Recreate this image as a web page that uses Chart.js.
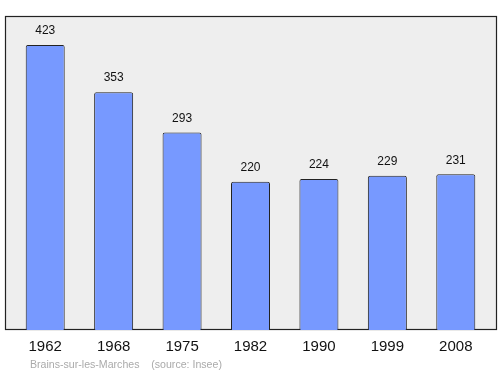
<!DOCTYPE html>
<html>
<head>
<meta charset="utf-8">
<script src="https://cdn.jsdelivr.net/npm/chart.js@4"></script>
<style>
  html, body { margin: 0; padding: 0; background: #fff; }
  #wrap { position: relative; width: 500px; height: 374px; }
  #source {
    position: absolute; left: 30px; top: 358px;
    font: 10.6px "Liberation Sans", Arial, sans-serif; color: #aaaaaa;
    white-space: pre;
  }
</style>
</head>
<body>
<div id="wrap">
  <canvas id="c" width="500" height="374"></canvas>
  <div id="source">Brains-sur-les-Marches    (source: Insee)</div>
</div>
<script>
// population by census year
const years = ['1962', '1968', '1975', '1982', '1990', '1999', '2008'];
const population = [423, 353, 293, 220, 224, 229, 231];
const yMax = 466;

// grey frame behind the bars
const frame = {
    id: 'frame',
    beforeDraw(chart) {
        const ctx = chart.ctx;
        ctx.save();
        ctx.fillStyle = '#eeeeee';
        ctx.fillRect(5, 16, 492, 314);
        ctx.strokeStyle = '#222222';
        ctx.lineWidth = 1.2;
        ctx.strokeRect(5.5, 16.5, 491, 313);
        ctx.restore();
    }
};

// value written above each bar
const valueLabels = {
    id: 'valueLabels',
    afterDatasetsDraw(chart) {
        const ctx = chart.ctx;
        const meta = chart.getDatasetMeta(0);
        ctx.save();
        ctx.font = '12px "Liberation Sans", Arial, sans-serif';
        ctx.fillStyle = '#111111';
        ctx.textAlign = 'center';
        ctx.textBaseline = 'middle';
        meta.data.forEach((bar, i) => {
            ctx.fillText(population[i], bar.x, bar.y - 14);
        });
        ctx.restore();
    }
};

new Chart(document.getElementById('c'), {
    type: 'bar',
    data: {
        labels: years,
        datasets: [{
            data: population,
            backgroundColor: '#7799ff',
            borderColor: '#222222',
            borderWidth: 1,
            borderRadius: 2,
            borderSkipped: 'bottom',
            barPercentage: 0.57,
            categoryPercentage: 1
        }]
    },
    options: {
        responsive: false,
        animation: false,
        layout: { padding: { left: 11, right: 10, top: 16, bottom: 0 } },
        plugins: { legend: { display: false }, tooltip: { enabled: false } },
        scales: {
            y: { display: false, min: 0, max: yMax },
            x: {
                grid: { display: false, drawTicks: false },
                border: { display: false },
                ticks: {
                    padding: 8,
                    color: '#111111',
                    font: { size: 15, family: '"Liberation Sans", Arial, sans-serif' }
                },
                afterFit: s => { s.height = 44; }
            }
        }
    },
    plugins: [frame, valueLabels]
});
</script>
</body>
</html>
